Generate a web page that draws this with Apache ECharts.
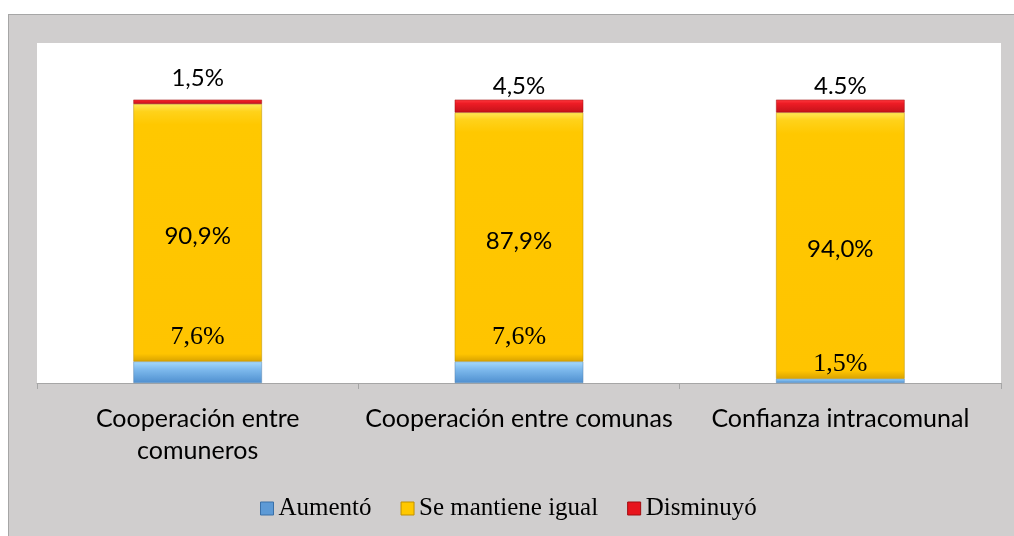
<!DOCTYPE html>
<html><head><meta charset="utf-8">
<script src="https://cdn.jsdelivr.net/npm/echarts@6/dist/echarts.min.js"></script>
<style>
html,body{margin:0;padding:0;background:#fff;width:1014px;height:536px;overflow:hidden;}
#c{position:absolute;left:8px;top:14px;width:1006px;height:522px;border-left:1px solid #a6a6a6;border-top:1px solid #a6a6a6;background:#d0cece;}
</style></head><body>
<div id="c"></div>
<script>
const categories = ['Cooperación entre\ncomuneros', 'Cooperación entre comunas', 'Confianza intracomunal'];
const aumento = [7.6, 7.6, 1.5];
const mantiene = [90.9, 87.9, 94.0];
const disminuyo = [1.5, 4.5, 4.5];
const aumentoLabels = ['7,6%', '7,6%', '1,5%'];
const mantieneLabels = ['90,9%', '87,9%', '94,0%'];
const disminuyoLabels = ['1,5%', '4,5%', '4.5%'];
const seriesNames = ['Aumentó', 'Se mantiene igual', 'Disminuyó'];

const sans = 'Lato';
const serif = 'Liberation Serif';

function grad(stops) {
  return new echarts.graphic.LinearGradient(0, 0, 0, 1, stops.map(s => ({offset: s[0], color: s[1]})));
}
const blue = grad([[0, '#a8dafb'], [0.35, '#7fbbee'], [1, '#4f8fcf']]);
const yellow = grad([[0, '#ffe85a'], [0.03, '#ffd21a'], [0.08, '#ffc800'], [0.97, '#ffc400'], [1, '#d9a300']]);
const red = grad([[0, '#ff3a40'], [0.3, '#ee1c25'], [1, '#c4121a']]);

const chart = echarts.init(document.getElementById('c'));
chart.setOption({
  animation: false,
  backgroundColor: 'transparent',
  grid: {left: 28, top: 28, right: 14, bottom: 154, show: true, backgroundColor: '#ffffff', borderWidth: 0},
  legend: {
    bottom: 11, left: 246, icon: 'rect', itemWidth: 13, itemHeight: 13, itemGap: 29,
    textStyle: {fontFamily: serif, fontSize: 25, color: '#000'},
    data: [
      {name: seriesNames[0], itemStyle: {color: '#5d9ad6', borderColor: '#3a70a8', borderWidth: 1}},
      {name: seriesNames[1], itemStyle: {color: '#ffc800', borderColor: '#c09000', borderWidth: 1}},
      {name: seriesNames[2], itemStyle: {color: '#e8141c', borderColor: '#a00c10', borderWidth: 1}}
    ]
  },
  xAxis: {
    type: 'category', data: categories,
    axisLine: {lineStyle: {color: '#a6a6a6', width: 1}},
    axisTick: {show: true, length: 6, lineStyle: {color: '#a6a6a6'}},
    axisLabel: {interval: 0, hideOverlap: false, fontFamily: sans, fontSize: 25, color: '#000', margin: 20, lineHeight: 32}
  },
  yAxis: {type: 'value', min: 0, max: 120, show: false, splitLine: {show: false}},
  series: [
    {
      name: seriesNames[0], type: 'bar', stack: 's', barWidth: '40%',
      itemStyle: {color: blue, borderColor: '#5a86b0', borderWidth: 0.5},
      data: aumento.map((v, i) => ({value: v, label: {distance: i === 2 ? 2 : 11}})),
      label: {show: true, position: 'top', fontFamily: serif, fontSize: 26, color: '#000',
        formatter: p => aumentoLabels[p.dataIndex]}
    },
    {
      name: seriesNames[1], type: 'bar', stack: 's',
      itemStyle: {color: yellow, borderColor: '#b89000', borderWidth: 0.5},
      data: mantiene,
      label: {show: true, position: 'inside', offset: [0, 4], fontFamily: sans, fontSize: 24, color: '#000',
        formatter: p => mantieneLabels[p.dataIndex]}
    },
    {
      name: seriesNames[2], type: 'bar', stack: 's',
      itemStyle: {color: red, borderColor: '#a01010', borderWidth: 0.5},
      data: disminuyo.map((v, i) => ({value: v, label: {distance: i === 0 ? 9 : 1}})),
      label: {show: true, position: 'top', fontFamily: sans, fontSize: 24, color: '#000',
        formatter: p => disminuyoLabels[p.dataIndex]}
    }
  ]
});
</script></body></html>
